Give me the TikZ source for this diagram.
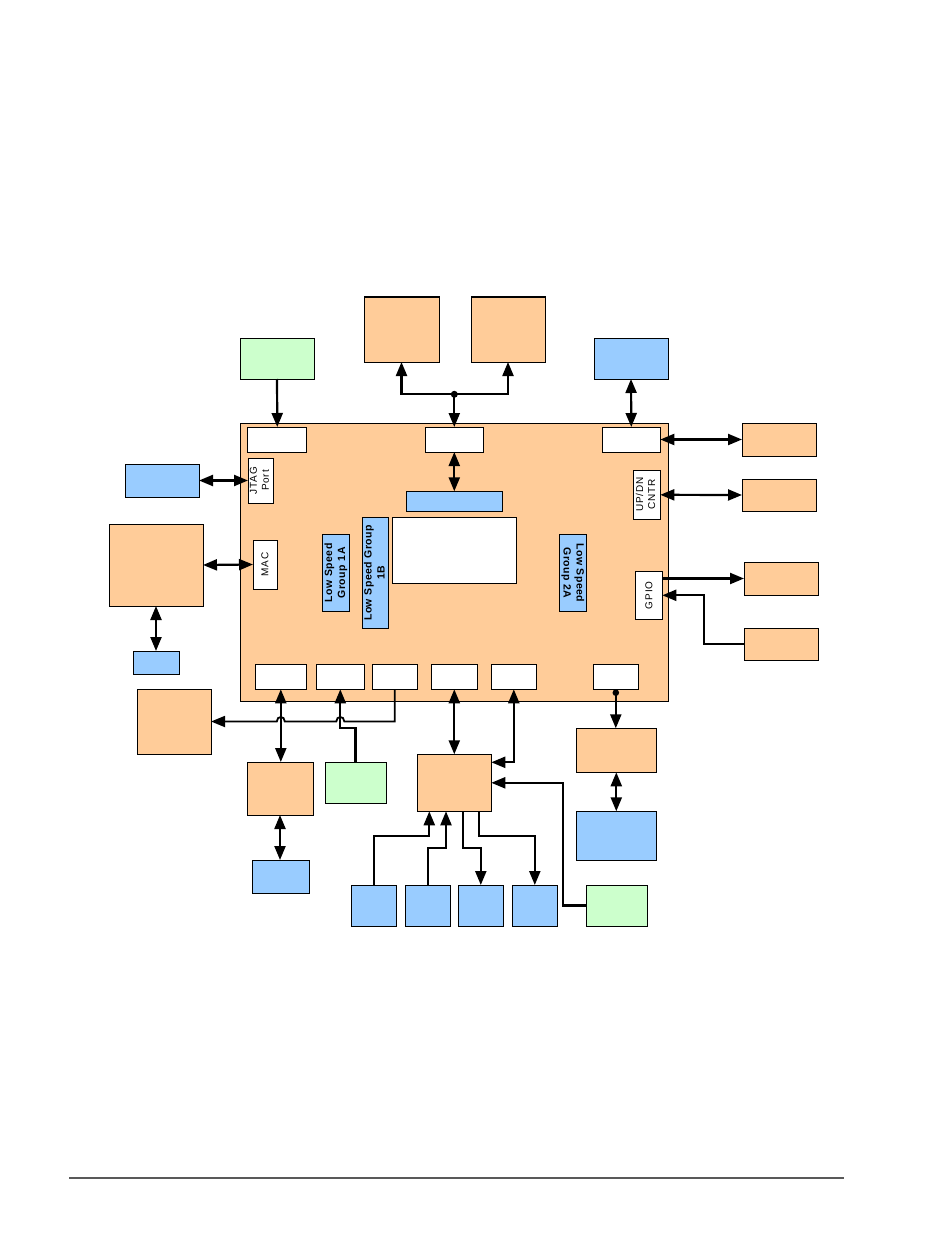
\documentclass[tikz,border=0pt]{standalone}
\usepackage{fontspec}
\setmainfont{Liberation Sans}
\usepackage{graphicx}
\usetikzlibrary{arrows.meta,calc}
\definecolor{peach}{HTML}{FFCC99}
\definecolor{mint}{HTML}{CCFFCC}
\definecolor{sky}{HTML}{99CCFF}
\begin{document}
\begin{tikzpicture}[x=1pt,y=-1pt,
  box/.style={draw=black, line width=1pt, inner sep=0pt, outer sep=0pt, rectangle},
  sz/.style 2 args={minimum width=#1pt, minimum height=#2pt},
  ob/.style={box, fill=peach},
  gbx/.style={box, fill=mint},
  bbx/.style={box, fill=sky},
  wbx/.style={box, fill=white},
  wire/.style={line width=2.2pt, draw=black},
  tipone/.style={wire, -{Triangle[length=14pt,width=11pt]}},
  tipboth/.style={wire, {Triangle[length=14pt,width=11pt]}-{Triangle[length=14pt,width=11pt]}},
  lbl/.style={font=\fontsize{10}{12}\selectfont\addfontfeatures{LetterSpace=8}},
  blbl/.style={font=\fontsize{10.5}{13}\selectfont\bfseries\addfontfeatures{LetterSpace=5}}]
\useasboundingbox (0,0) rectangle (950,1246);

% main chip
\node[ob, sz={427.6}{278}] (chip) at (454.5,562) {};

% top boxes
\node[gbx, sz={74}{41}] (gTop) at (277,358.5) {};
\node[ob, sz={75}{65}] (oTop1) at (401.5,329.5) {};
\node[ob, sz={74}{65}] (oTop2) at (508,329.5) {};
\node[bbx, sz={74}{41}] (bTop) at (631,358.5) {};

% chip inner boxes
\node[wbx, sz={58.7}{25}] (wTL) at (277.3,439.5) {};
\node[wbx, sz={58}{25}] (wTM) at (454.3,439.5) {};
\node[wbx, sz={58}{25}] (wTR) at (631.3,439.5) {};
\node[wbx, sz={25}{45}, lbl] (jtag) at (260.5,480.5) {\rotatebox{90}{\begin{tabular}{@{}c@{}}JTAG\\Port\end{tabular}}};
\node[wbx, sz={24}{49}, lbl] (mac) at (265,564.5) {\rotatebox{90}{MAC}};
\node[bbx, sz={26.6}{77}, blbl] (ls1a) at (336,572.8) {\rotatebox{90}{\begin{tabular}{@{}c@{}}Low Speed\\Group 1A\end{tabular}}};
\node[bbx, sz={25.6}{111}, blbl] (ls1b) at (375.5,572.8) {\rotatebox{90}{\begin{tabular}{@{}c@{}}Low Speed Group\\1B\end{tabular}}};
\node[wbx, sz={124.4}{66}] (wBig) at (454.5,550.3) {};
\node[bbx, sz={96}{20}] (bBar) at (454.3,501.3) {};
\node[wbx, sz={27}{49}, lbl] (updn) at (646.8,494.8) {\rotatebox{90}{\begin{tabular}{@{}c@{}}UP/DN\\CNTR\end{tabular}}};
\node[bbx, sz={27}{77}, blbl] (ls2a) at (572.8,572.8) {\rotatebox{-90}{\begin{tabular}{@{}c@{}}Low Speed\\Group 2A\end{tabular}}};
\node[wbx, sz={27}{48}, lbl] (gpio) at (648.8,595.3) {\rotatebox{90}{GPIO}};
\node[wbx, sz={51}{25}] (wb1) at (280.8,676.8) {};
\node[wbx, sz={48}{25}] (wb2) at (340.3,676.8) {};
\node[wbx, sz={45}{25}] (wb3) at (394.8,676.8) {};
\node[wbx, sz={46}{25}] (wb4) at (454.3,676.8) {};
\node[wbx, sz={45}{25}] (wb5) at (513.8,676.8) {};
\node[wbx, sz={45}{25}] (wb6) at (615.8,676.8) {};

% left boxes
\node[bbx, sz={74}{33}] (jtagB) at (162,480.5) {};
\node[ob, sz={94}{82}] (macO) at (156,565) {};
\node[bbx, sz={46}{23}] (macB) at (156,662.5) {};

% right boxes
\node[ob, sz={74}{33}] (r1) at (779,439.5) {};
\node[ob, sz={74}{32}] (r2) at (779,495) {};
\node[ob, sz={74}{33}] (r3) at (781,578.5) {};
\node[ob, sz={74}{32}] (r4) at (781,644) {};

% bottom boxes
\node[ob, sz={74}{65}] (oBL) at (174,721.5) {};
\node[ob, sz={66}{53}] (oB1) at (280,788.5) {};
\node[gbx, sz={61}{41}] (gB) at (355.5,782.5) {};
\node[bbx, sz={57}{33}] (bB1) at (280.5,876.5) {};
\node[ob, sz={74}{57}] (hub) at (454.3,782.8) {};
\node[bbx, sz={45}{41}] (ba) at (373.8,905.5) {};
\node[bbx, sz={45}{41}] (bb) at (427.8,905.5) {};
\node[bbx, sz={45}{41}] (bc) at (480.8,905.5) {};
\node[bbx, sz={45}{41}] (bd) at (534.8,905.5) {};
\node[gbx, sz={61}{41}] (gBR) at (616.8,905.5) {};
\node[ob, sz={80}{44}] (oR) at (616.3,750.3) {};
\node[bbx, sz={80}{49}] (bR) at (616.3,835.8) {};

% top connectors
\draw[tipone] (gTop.south) -- (wTL.north);
\coordinate (jn) at (454.3,394.3);
\draw[tipone] (jn) -- (wTM.north);
\draw[tipone] (jn) -| (oTop1.south);
\draw[tipone] (jn) -| (oTop2.south);
\fill (jn) circle (3.5);
\draw[tipboth] (bTop.south) -- (wTR.north);
\draw[tipboth] (wTM.south) -- (bBar.north);

% right connectors
\draw[tipboth] (wTR.east) -- (r1.west);
\draw[tipboth] (updn.east) -- (r2.west);
\draw[tipone] (r3.west -| gpio.east) -- (r3.west);
\draw[tipone] (r4.west) -- ++(-40.3,0) |- (gpio.east);

% left connectors
\draw[tipboth] (jtagB.east) -- (jtag.west);
\draw[tipboth] (macO.east) -- (mac.west);
\draw[tipboth] (macO.south) -- (macB.north);

% bottom connectors
\draw[wire, line width=1.8pt, -{Triangle[length=14pt,width=11pt]}] (wb3.south) -- (394.8,721.5) -- (344.3,721.5) .. controls (344.3,715.5) and (336.3,715.5) .. (336.3,721.5) -- (284.8,721.5) .. controls (284.8,715.5) and (276.8,715.5) .. (276.8,721.5) -- (oBL.east);
\draw[tipboth] (wb1.south) -- (wb1.south |- oB1.north);
\draw[tipone] (gB.north) -- ++(0,-34) -| (wb2.south);
\draw[tipboth] (oB1.south) -- (oB1.south |- bB1.north);
\draw[tipboth] (wb4.south) -- (hub.north);
\draw[tipboth] (wb5.south) |- ($(hub.north east)+(0,8)$);
\draw[tipone] (gBR.west) -- ++(-23.6,0) |- (hub.east);
\draw[tipone] (ba.north) |- ($(hub.south west)+(12,24.4)$) -- ($(hub.south west)+(12,0)$);
\draw[tipone] (bb.north) |- ($(hub.south west)+(28.7,36.7)$) -- ($(hub.south west)+(28.7,0)$);
\draw[tipone] ($(hub.south west)+(46,0)$) |- ($(bc.north)+(0,-37)$) -- (bc.north);
\draw[tipone] ($(hub.south west)+(61.4,0)$) |- ($(bd.north)+(0,-49.3)$) -- (bd.north);
\draw[tipone] (wb6.south) -- (wb6.south |- oR.north);
\fill ($(wb6.south)+(0,3.4)$) circle (3.3);
\draw[tipboth] (oR.south) -- (oR.south |- bR.north);

% footer rule
\coordinate (ruleL) at (69.3,1178);
\coordinate (ruleR) at (843.7,1178);
\draw[line width=1.3pt, draw=black!65] (ruleL) -- (ruleR);
\end{tikzpicture}
\end{document}
